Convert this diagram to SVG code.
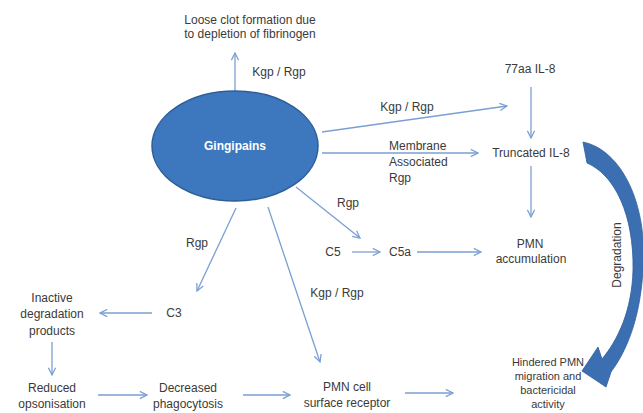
<svg xmlns="http://www.w3.org/2000/svg" width="643" height="413" viewBox="0 0 643 413">
<style>
text{font-family:"Liberation Sans",Arial,sans-serif;font-size:12px;fill:#3a3a3a}
.c{text-anchor:middle}
.s{font-size:11px}
.w{fill:#ffffff;font-weight:bold}
.ln{stroke:#7a9fd3;stroke-width:1.3;fill:none;marker-end:url(#ah)}
</style>
<defs>
<marker id="ah" viewBox="0 0 10 10" refX="9" refY="5" markerWidth="9" markerHeight="9" markerUnits="userSpaceOnUse" orient="auto">
<path d="M1,1 L9,5 L1,9" fill="none" stroke="#7a9fd3" stroke-width="1.4"/>
</marker>
</defs>
<rect width="643" height="413" fill="#ffffff"/>
<g id="connectors">
<line class="ln" x1="235" y1="91" x2="235" y2="53"/>
<line class="ln" x1="322" y1="132" x2="507" y2="106"/>
<line class="ln" x1="322" y1="153" x2="478" y2="153"/>
<line class="ln" x1="531" y1="87" x2="531" y2="138"/>
<line class="ln" x1="531" y1="166" x2="531" y2="217"/>
<line class="ln" x1="296" y1="187" x2="360" y2="238"/>
<line class="ln" x1="352" y1="252" x2="380" y2="252"/>
<line class="ln" x1="417" y1="252" x2="481" y2="252"/>
<line class="ln" x1="236" y1="208" x2="197" y2="291"/>
<line class="ln" x1="152" y1="313" x2="100" y2="313"/>
<line class="ln" x1="52" y1="342" x2="52" y2="375"/>
<line class="ln" x1="98" y1="395" x2="147" y2="395"/>
<line class="ln" x1="243" y1="395" x2="290" y2="395"/>
<line class="ln" x1="268" y1="207" x2="320" y2="362"/>
<line class="ln" x1="405" y1="393" x2="453" y2="393"/>
<path id="degradation-arrow" d="M583 142 C622 150 648 205 643 270 C640 320 626 352 611 372 L606 387 L582 371 L598 347 L602 359 C618 340 632 310 633 270 C634 215 615 175 587 163 Z" fill="#3b6fb2" stroke="#2f5e9c" stroke-width="0.8"/>
<text x="0" y="0" transform="translate(621,255) rotate(-90)" class="c">Degradation</text>
<text x="279" y="76" class="c">Kgp / Rgp</text>
<text x="407" y="111" class="c">Kgp / Rgp</text>
<text x="389" y="150">Membrane</text>
<text x="389" y="166">Associated</text>
<text x="389" y="182">Rgp</text>
<text x="348" y="207" class="c">Rgp</text>
<text x="197" y="247" class="c">Rgp</text>
<text x="337" y="297" class="c">Kgp / Rgp</text>
</g>
<g id="gingipains">
<ellipse cx="235" cy="146" rx="83" ry="55" fill="#3d78bf" stroke="#2e5e98" stroke-width="1.5"/>
<text x="235" y="150" class="c w">Gingipains</text>
</g>
<g id="loose-clot">
<text x="250" y="24" class="c">Loose clot formation due</text>
<text x="250" y="38" class="c">to depletion of fibrinogen</text>
</g>
<g id="il8-77aa"><text x="530" y="73" class="c">77aa IL-8</text></g>
<g id="il8-truncated"><text x="531" y="157" class="c">Truncated IL-8</text></g>
<g id="c5"><text x="333" y="256" class="c">C5</text></g>
<g id="c5a"><text x="400" y="256" class="c">C5a</text></g>
<g id="pmn-accumulation">
<text x="530" y="248" class="c">PMN</text>
<text x="531" y="263" class="c">accumulation</text>
</g>
<g id="c3"><text x="174" y="317" class="c">C3</text></g>
<g id="inactive">
<text x="52" y="302" class="c">Inactive</text>
<text x="52" y="318" class="c">degradation</text>
<text x="52" y="335" class="c">products</text>
</g>
<g id="reduced">
<text x="52" y="392" class="c">Reduced</text>
<text x="52" y="408" class="c">opsonisation</text>
</g>
<g id="decreased">
<text x="188" y="392" class="c">Decreased</text>
<text x="188" y="408" class="c">phagocytosis</text>
</g>
<g id="pmn-cell">
<text x="347" y="391" class="c">PMN cell</text>
<text x="347" y="407" class="c">surface receptor</text>
</g>
<g id="hindered">
<text x="548" y="366" class="c s">Hindered PMN</text>
<text x="548" y="380" class="c s">migration and</text>
<text x="548" y="394" class="c s">bactericidal</text>
<text x="548" y="408" class="c s">activity</text>
</g>
</svg>
